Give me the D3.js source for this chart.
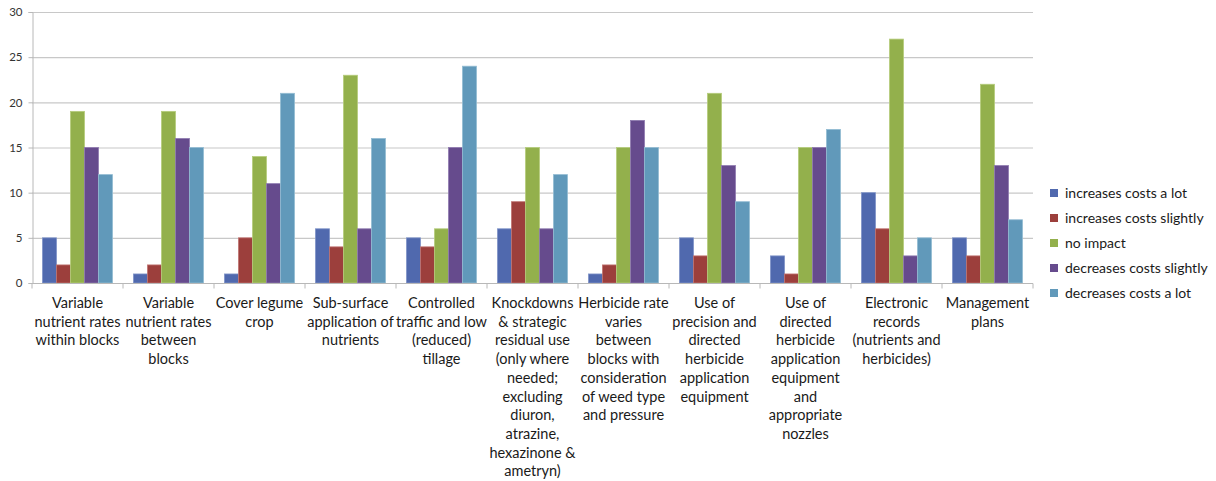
<!DOCTYPE html>
<html><head><meta charset="utf-8">
<script src="https://cdn.jsdelivr.net/npm/d3@7"></script>
<style>body{margin:0;background:#fff;} text{font-family:Lato,"Open Sans",sans-serif;}</style>
</head><body><svg id="c" width="1216" height="481"></svg>
<script>
const categories = [
  ["Variable","nutrient rates","within blocks"],
  ["Variable","nutrient rates","between","blocks"],
  ["Cover legume","crop"],
  ["Sub-surface","application of","nutrients"],
  ["Controlled","traffic and low","(reduced)","tillage"],
  ["Knockdowns","& strategic","residual use","(only where","needed;","excluding","diuron,","atrazine,","hexazinone &","ametryn)"],
  ["Herbicide rate","varies","between","blocks with","consideration","of weed type","and pressure"],
  ["Use of","precision and","directed","herbicide","application","equipment"],
  ["Use of","directed","herbicide","application","equipment","and","appropriate","nozzles"],
  ["Electronic","records","(nutrients and","herbicides)"],
  ["Management","plans"]
];
const seriesNames = ["increases costs a lot","increases costs slightly","no impact","decreases costs slightly","decreases costs a lot"];
const increasesALot      = [5,1,1,6,5,6,1,5,3,10,5];
const increasesSlightly  = [2,2,5,4,4,9,2,3,1,6,3];
const noImpact           = [19,19,14,23,6,15,15,21,15,27,22];
const decreasesSlightly  = [15,16,11,6,15,6,18,13,15,3,13];
const decreasesALot      = [12,15,21,16,24,12,15,9,17,5,7];
const yTicks = [0,5,10,15,20,25,30];

const series = [increasesALot,increasesSlightly,noImpact,decreasesSlightly,decreasesALot];
const colors = ["#5069ae","#9c3f3c","#93b04c","#664b8d","#6199ba"];
const strokes = ["#7f93c8","#c07370","#b5cc7c","#8f7bb0","#93bcd3"];

const svg = d3.select("#c");
const L=32, R=1033, T=12, B=283;
const idx = d3.range(categories.length);
const x0 = d3.scaleBand().domain(idx).range([L,R]).paddingInner(0).paddingOuter(0);
const x1 = d3.scaleBand().domain(d3.range(series.length)).range([0,x0.bandwidth()]).paddingOuter(0.75).paddingInner(0);
const y = d3.scaleLinear().domain([0,30]).range([B,T]);

// gridlines
svg.append("g").selectAll("line").data(yTicks.filter(d=>d>0)).join("line")
  .attr("x1",L).attr("x2",R).attr("y1",d=>y(d)+0.5).attr("y2",d=>y(d)+0.5)
  .attr("stroke","#c8c8c8").attr("stroke-width",1.2);

// y axis
const ya = svg.append("g").attr("transform",`translate(${L+0.5},0)`)
  .call(d3.axisLeft(y).tickValues(yTicks).tickSize(4).tickPadding(6));
ya.select(".domain").attr("stroke","#b8b8b8");
ya.selectAll(".tick line").attr("stroke","#b8b8b8");
ya.selectAll("text").attr("font-size","11.5px").attr("fill","#333").style("font-family","Lato,'Open Sans',sans-serif");

// bars
const g = svg.append("g");
series.forEach((vals,si)=>{
  g.append("g").selectAll("rect").data(vals).join("rect")
    .attr("x",(d,i)=>x0(i)+x1(si))
    .attr("y",d=>y(d))
    .attr("width",x1.bandwidth())
    .attr("height",d=>y(0)-y(d))
    .attr("fill",colors[si])
    .attr("stroke",strokes[si]).attr("stroke-width",0.8);
});

// x axis
const xa = svg.append("g").attr("transform",`translate(0,${B+0.5})`);
xa.append("line").attr("x1",L).attr("x2",R).attr("stroke","#b8b8b8").attr("stroke-width",1.2);
xa.selectAll("line.t").data(d3.range(categories.length+1)).join("line").attr("class","t")
  .attr("x1",d=>L+d*x0.bandwidth()).attr("x2",d=>L+d*x0.bandwidth())
  .attr("y1",0).attr("y2",5).attr("stroke","#b8b8b8");
const lab = xa.selectAll("text.c").data(categories).join("text").attr("class","c")
  .attr("x",(d,i)=>x0(i)+x0.bandwidth()/2)
  .attr("text-anchor","middle").attr("font-size","14.5px").attr("fill","#1a1a1a");
lab.selectAll("tspan").data(d=>d).join("tspan")
  .attr("x",function(){return this.parentNode.getAttribute("x");})
  .attr("y",(d,i)=>24.5+i*18.7).text(d=>d);

// legend
const lg = svg.append("g").attr("transform","translate(1050,0)");
seriesNames.forEach((n,i)=>{
  const yy = 193 + i*25;
  lg.append("rect").attr("x",0).attr("y",yy-4).attr("width",8).attr("height",8).attr("fill",colors[i]);
  lg.append("text").attr("x",15).attr("y",yy+5).attr("font-size","14px").attr("fill","#1a1a1a").text(n);
});
</script></body></html>
